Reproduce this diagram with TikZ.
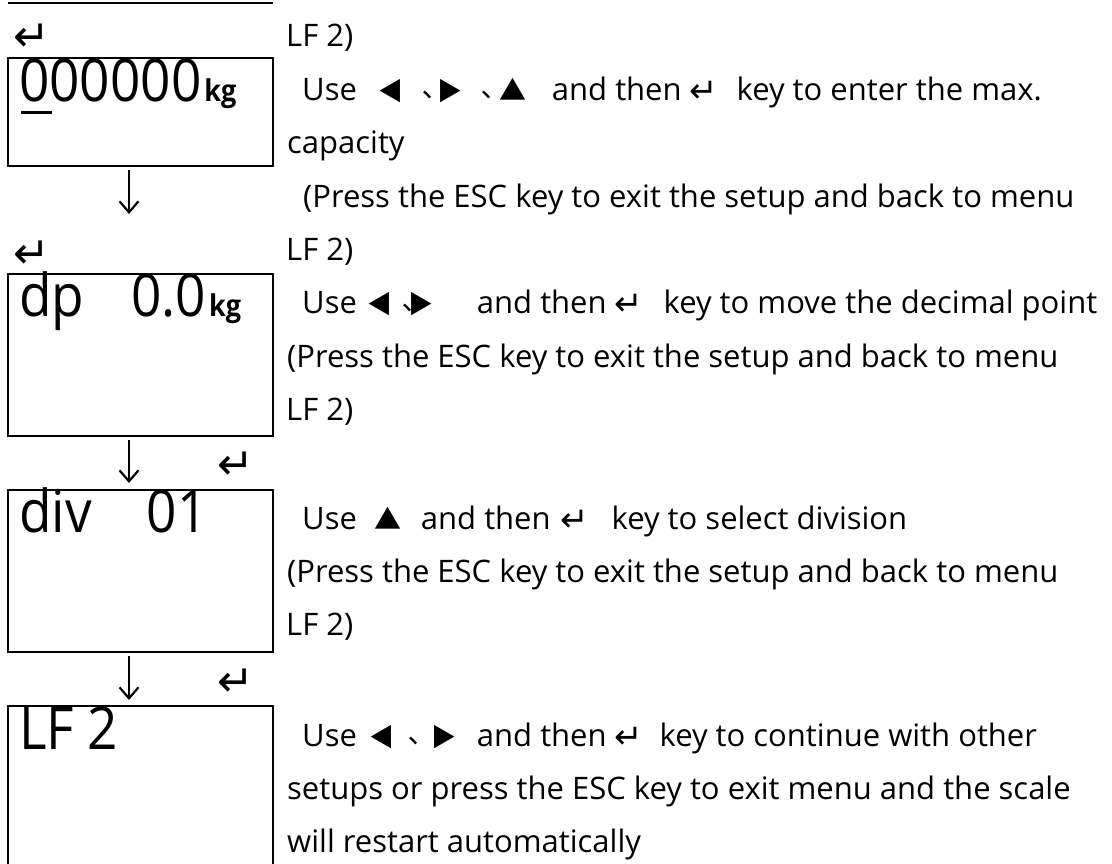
\documentclass[tikz,border=0pt]{standalone}
\usepackage{fontspec}
\setmainfont{Open Sans}
\newfontfamily\symfont{DejaVu Sans}
\newfontfamily\cjkfont{Noto Sans CJK TC}
\newfontfamily\lcdfont[FakeStretch=0.9]{Open Sans}
\usetikzlibrary{arrows.meta,positioning}

\newcommand\keyL{\makebox[15pt]{\cjkfont\fontsize{25pt}{25pt}\selectfont ◀}}
\newcommand\keyR{\makebox[15pt]{\cjkfont\fontsize{25pt}{25pt}\selectfont ▶}}
\newcommand\keyUp{\makebox[22pt]{\cjkfont\fontsize{27pt}{27pt}\selectfont ▲}}
\newcommand\keyEnt{\makebox[17pt]{\raisebox{-2pt}{\symfont\fontsize{34pt}{34pt}\selectfont ↵}}}
\newcommand\dun{\makebox[7pt]{\raisebox{-5pt}{\cjkfont\fontsize{28pt}{28pt}\selectfont 、}}}
\newcommand\kgs{\hspace{3pt}{\fontsize{30pt}{30pt}\selectfont\bfseries kg}}

\begin{document}
\begin{tikzpicture}[x=1pt,y=-1pt,
  lcd/.style={draw,line width=2pt,minimum width=265pt,minimum height=162pt,inner sep=0pt},
  disp/.style={anchor=base west,inner sep=0pt,font=\lcdfont\fontsize{59pt}{59pt}\selectfont},
  txt/.style={anchor=base west,inner sep=0pt,font=\fontsize{31pt}{31pt}\selectfont},
  ent/.style={anchor=base west,inner sep=0pt,font=\symfont\fontsize{44pt}{44pt}\selectfont},
  flow/.style={-{Straight Barb[length=11pt,width=19pt]},line width=2.2pt}]
\path[use as bounding box] (0,0) rectangle (1112,863);
\clip (0,0) rectangle (1112,863);

% end of the box before
\draw[line width=2pt] (8,3) -- (273,3);

% display boxes
\node[lcd,minimum height=108pt] (b1) at (140.5,112) {};
\node[lcd] (b2) at (140.5,355) {};
\node[lcd] (b3) at (140.5,571) {};
\node[lcd] (b4) at (140.5,787) {};

\node[disp] (d1) at ([xshift=12pt,yshift=-44pt]b1.north west) {000000\kgs};
\node[disp] (d2) at ([xshift=12pt,yshift=-43pt]b2.north west) {dp\hspace{47pt}0.0\kgs};
\node[disp] (d3) at ([xshift=12pt,yshift=-43pt]b3.north west) {div\hspace{55pt}01};
\node[disp] (d4) at ([xshift=12pt,yshift=-44pt]b4.north west) {LF 2};
\draw[line width=3pt] ([xshift=14pt,yshift=-55pt]b1.north west) -- ++(31,0);

% enter keys
\node[ent] (k1) at (22,51) {\makebox[20pt]{↵}};
\node[ent] (k2) at (22,268) {\makebox[20pt]{↵}};
\node[ent] (k3) at (227,479) {\makebox[18pt]{↵}};
\node[ent] (k4) at (227,696) {\makebox[18pt]{↵}};

% flow
\coordinate (a1) at (129,214);
\coordinate (a2) at (129,483);
\coordinate (a3) at (129,700);
\draw[flow] ([xshift=-11.5pt,yshift=-3pt]b1.south) -- (a1);
\draw[flow] ([xshift=-11.5pt,yshift=-3pt]b2.south) -- (a2);
\draw[flow] ([xshift=-11.5pt,yshift=-3pt]b3.south) -- (a3);

% notes
\node[txt] (t1a) at (286,46) {LF 2)};
\node[txt] (t1b) at (302,100) {Use\hspace{27pt}\keyL\hspace{25pt}\dun\hspace{12pt}\keyR\hspace{25pt}\dun\hspace{12pt}\keyUp\hspace{28pt}and then\hspace{14pt}\keyEnt\hspace{24pt}key to enter the max.};
\node[txt] (t1c) at (287,153) {capacity};
\node[txt] (t1d) at (303,207) {(Press the ESC key to exit the setup and back to menu};

\node[txt] (t2a) at (286,260) {LF 2)};
\node[txt] (t2b) at (302,313) {Use\hspace{16pt}\keyL\hspace{16pt}\dun\hspace{3pt}\keyR\hspace{48pt}and then\hspace{14pt}\keyEnt\hspace{26pt}key to move the decimal point};
\node[txt] (t2c) at (287,367) {(Press the ESC key to exit the setup and back to menu};
\node[txt] (t2d) at (286,420) {LF 2)};

\node[txt] (t3a) at (302,529) {Use\hspace{20pt}\keyUp\hspace{22pt}and then\hspace{16pt}\keyEnt\hspace{28pt}key to select division};
\node[txt] (t3b) at (287,582) {(Press the ESC key to exit the setup and back to menu};
\node[txt] (t3c) at (286,635) {LF 2)};

\node[txt] (t4a) at (302,746) {Use\hspace{18pt}\keyL\hspace{20pt}\dun\hspace{20pt}\keyR\hspace{25pt}and then\hspace{14pt}\keyEnt\hspace{22pt}key to continue with other};
\node[txt] (t4b) at (287,799) {setups or press the ESC key to exit menu and the scale};
\node[txt] (t4c) at (287,852) {will restart automatically};
\end{tikzpicture}
\end{document}
